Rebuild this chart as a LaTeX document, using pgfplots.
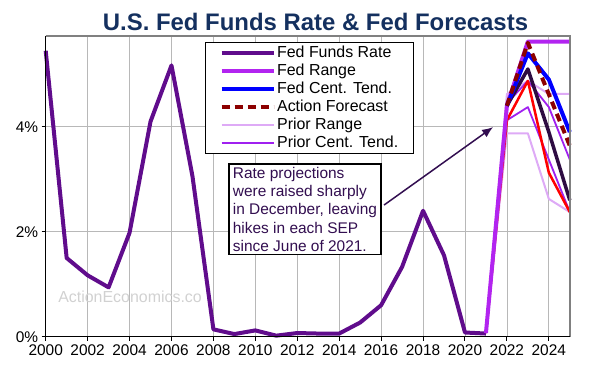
\documentclass[border=0pt]{standalone}
\usepackage{fontspec}
\setmainfont{Liberation Sans}
\usepackage{pgfplots}
\pgfplotsset{compat=1.18}
\usetikzlibrary{arrows.meta}
\definecolor{ffr}{RGB}{96,12,140}
\definecolor{frange}{RGB}{178,36,240}
\definecolor{prange}{RGB}{222,170,246}
\definecolor{pct}{RGB}{160,32,240}
\definecolor{actc}{RGB}{140,0,0}
\definecolor{darkf}{RGB}{46,12,66}
\definecolor{titlec}{RGB}{20,48,95}
\definecolor{notec}{RGB}{50,14,80}
\begin{document}
\begin{tikzpicture}
\useasboundingbox (-45.7bp,-33.3bp) rectangle (555.3bp,336.7bp);
\begin{axis}[at={(0,0)}, anchor=south west, scale only axis,
  width=524.1bp, height=300.7bp,
  xmin=2000, xmax=2025, ymin=0, ymax=5.73,
  xtick={2000,2002,2004,2006,2008,2010,2012,2014,2016,2018,2020,2022,2024},
  xticklabels={2000,2002,2004,2006,2008,2010,2012,2014,2016,2018,2020,2022,2024},
  ytick={0,2,4}, yticklabels={0\%,2\%,4\%},
  tick label style={font=\fontsize{15.5}{15.5}\selectfont},
  tick align=outside, xtick pos=bottom, ytick pos=left,
  major tick length=4bp, tick style={black, line width=1bp},
  grid=major, major grid style={draw=black!28, line width=0.8bp},
  axis line style={draw=none},
  clip=false,
  legend style={at={(axis cs:2007.6,5.61)}, anchor=north west, draw=black, line width=1.2bp, fill=white,
    font=\fontsize{16}{16}\selectfont, inner xsep=14bp, inner ysep=1.5bp,
    nodes={inner sep=1.5bp, text height=11.6bp, text depth=3.4bp}, cells={anchor=west}, row sep=0pt},
  legend image code/.code={\draw[#1] (0bp,0bp) -- (52bp,0bp);},
  every axis plot/.append style={line join=round},
]
% Fed funds rate history
\addplot[ffr, line width=4bp, forget plot] coordinates {
 (2000,5.45) (2001,1.50) (2002,1.17) (2003,0.94) (2004,1.98) (2005,4.10) (2006,5.17) (2007,3.06)
 (2008,0.14) (2009,0.05) (2010,0.12) (2011,0.02) (2012,0.07) (2013,0.06) (2014,0.06) (2015,0.27)
 (2016,0.60) (2017,1.33) (2018,2.40) (2019,1.55) (2020,0.08) (2021,0.06)};
% prior range
\addplot[prange, line width=2bp, forget plot] coordinates {(2021,0.07) (2022,4.625) (2023,4.875) (2024,4.625) (2025,4.625)};
\addplot[prange, line width=2bp, forget plot] coordinates {(2021,0.07) (2022,3.875) (2023,3.875) (2024,2.625) (2025,2.375)};
% prior central tendency
\addplot[pct, line width=1.8bp, forget plot] coordinates {(2021,0.07) (2022,4.45) (2023,4.875) (2024,4.375) (2025,3.375)};
\addplot[pct, line width=1.8bp, forget plot] coordinates {(2021,0.07) (2022,4.125) (2023,4.375) (2024,3.375) (2025,2.375)};
% fed range lower
\addplot[red, line width=2.5bp, forget plot] coordinates {(2021,0.07) (2022,4.125) (2023,4.875) (2024,3.125) (2025,2.375)};
% fed range upper
\addplot[frange, line width=4bp, forget plot] coordinates {(2021,0.07) (2022,4.4) (2023,5.625) (2024,5.625) (2025,5.625)};
% dark projection line
\addplot[darkf, line width=3.5bp, forget plot] coordinates {(2022,4.4) (2023,5.1) (2024,3.9) (2025,2.6)};
% fed central tendency
\addplot[blue, line width=4bp, forget plot] coordinates {(2022,4.4) (2023,5.4) (2024,4.9) (2025,3.9)};
% action forecast
\addplot[actc, line width=4bp, dash pattern=on 8bp off 5bp, forget plot] coordinates {(2022,4.4) (2023,5.6) (2024,4.62) (2025,3.64)};

\addlegendimage{ffr, line width=4bp}\addlegendentry{Fed Funds Rate}
\addlegendimage{frange, line width=4bp}\addlegendentry{Fed Range}
\addlegendimage{blue, line width=4bp}\addlegendentry{Fed Cent. Tend.}
\addlegendimage{actc, line width=4bp, dash pattern=on 8bp off 5bp}\addlegendentry{Action Forecast}
\addlegendimage{prange, line width=2bp}\addlegendentry{Prior Range}
\addlegendimage{pct, line width=1.8bp}\addlegendentry{Prior Cent. Tend.}

% frame
\draw[black!50, line width=2bp] (rel axis cs:0,1) -- (rel axis cs:1,1) -- (rel axis cs:1,0);
\draw[black, line width=1.5bp] (rel axis cs:0,1) -- (rel axis cs:0,0) -- (rel axis cs:1,0);
% watermark
\node[anchor=base west, inner sep=0pt, text=black!18, font=\fontsize{16}{16}\selectfont] at (axis cs:2000.59,0.66) {ActionEconomics.co};
% annotation
\draw[notec, line width=1.5bp, -{Latex[length=11bp,width=9bp]}] (axis cs:2016.14,2.509) -- (axis cs:2021.34,3.994);
\node[anchor=north west, draw=black, line width=1.6bp, fill=white, align=left, inner xsep=4bp, inner ysep=3bp,
  text=notec, font=\fontsize{15.5}{18.4}\selectfont] at (axis cs:2008.70,3.309)
  {Rate projections\\were raised sharply\\in December, leaving\\hikes in each SEP\\since June of 2021.};
\end{axis}
\node[anchor=base, text=titlec, font=\fontsize{24}{24}\selectfont\bfseries, inner sep=0pt] at (269.8bp,305.7bp) {U.S. Fed Funds Rate \& Fed Forecasts};
\end{tikzpicture}
\end{document}
